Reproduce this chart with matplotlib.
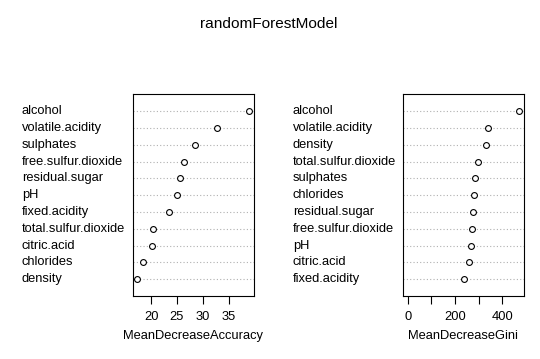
import matplotlib.pyplot as plt
import matplotlib.transforms as mtransforms

plt.rcParams['font.family'] = ['Liberation Sans', 'DejaVu Sans']

# top to bottom, as in the picture
acc_names = ['alcohol', 'volatile.acidity', 'sulphates', 'free.sulfur.dioxide',
             'residual.sugar', 'pH', 'fixed.acidity', 'total.sulfur.dioxide',
             'citric.acid', 'chlorides', 'density']
acc_vals = [38.9, 32.7, 28.4, 26.3, 25.5, 25.0, 23.5, 20.45, 20.1, 18.4, 17.2]
acc_ticks = [20, 25, 30, 35]

gini_names = ['alcohol', 'volatile.acidity', 'density', 'total.sulfur.dioxide',
              'sulphates', 'chlorides', 'residual.sugar', 'free.sulfur.dioxide',
              'pH', 'citric.acid', 'fixed.acidity']
gini_vals = [471, 341, 331, 297, 284, 282, 276, 272, 268, 259, 237]
gini_ticks = [0, 100, 200, 300, 400]
gini_ticklabels = ['0', '', '200', '', '400']

fs = 9.3
fig = plt.figure(figsize=(5.4, 3.59), dpi=100)
fig.text(0.497, 1 - 24 / 359, 'randomForestModel', ha='center', va='center',
         fontsize=11.1)


def dotpanel(rect, names, vals, xlim, ticks, ticklabels, xlabel, label_x):
    ax = fig.add_axes(rect)
    n = len(names)
    ys = list(range(n, 0, -1))
    for y in ys:
        ax.axhline(y, color='#b0b0b0', lw=0.8, ls=(0, (1, 2)), zorder=1)
    ax.plot(vals, ys, 'o', mfc='white', mec='black', mew=0.8, ms=4.2,
            ls='none', zorder=3)
    ax.set_xlim(xlim)
    ax.set_ylim(0, n + 1)
    ax.set_yticks([])
    ax.set_xticks(ticks)
    ax.set_xticklabels(ticklabels)
    ax.tick_params(axis='x', direction='out', length=5.5, width=0.8,
                   labelsize=fs, pad=5.5)
    ax.set_xlabel(xlabel, fontsize=fs, labelpad=5)
    for s in ax.spines.values():
        s.set_linewidth(0.8)
    trans = mtransforms.blended_transform_factory(fig.transFigure, ax.transData)
    for name, y in zip(names, ys):
        ax.text(label_x, y, name, transform=trans, ha='left', va='center',
                fontsize=fs)
    return ax


bottom = 1 - 296 / 359
height = (296 - 94.3) / 359
dotpanel([132.7 / 540, bottom, (254.3 - 132.7) / 540, height],
         acc_names, acc_vals, (16.45, 39.95), acc_ticks,
         [str(t) for t in acc_ticks], 'MeanDecreaseAccuracy', 22 / 540)
dotpanel([402.7 / 540, bottom, (524 - 402.7) / 540, height],
         gini_names, gini_vals, (-21, 491), gini_ticks, gini_ticklabels,
         'MeanDecreaseGini', 292.7 / 540)

fig.savefig('out.png', dpi=100)
